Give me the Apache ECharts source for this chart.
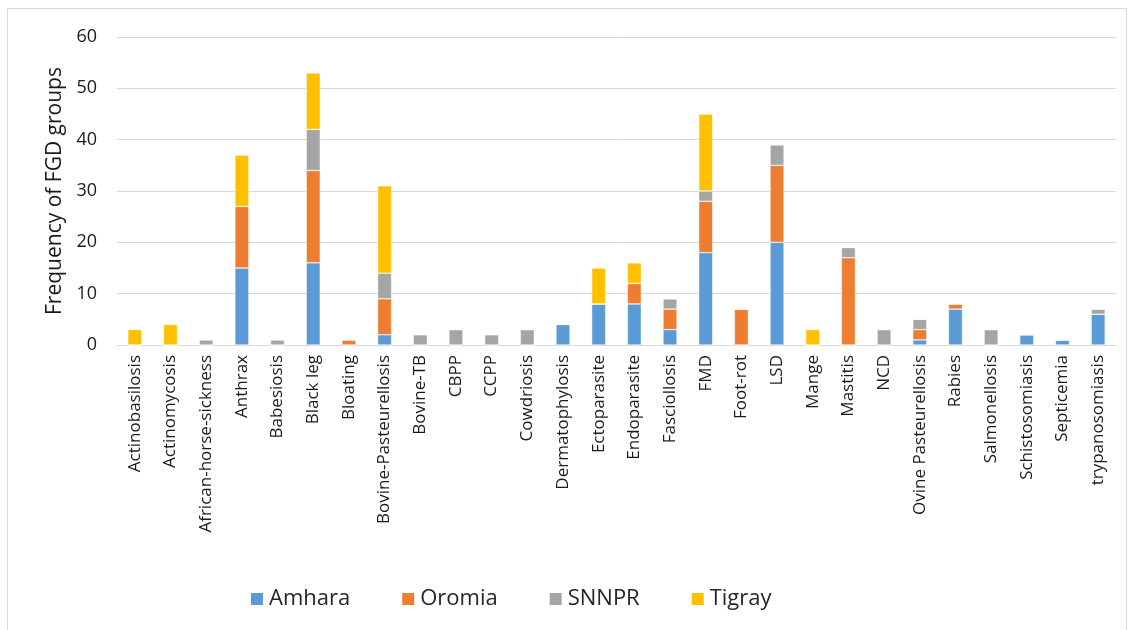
<!DOCTYPE html>
<html>
<head>
<meta charset="utf-8">
<script src="https://cdn.jsdelivr.net/npm/echarts@6/dist/echarts.min.js"></script>
<style>
  html, body { margin: 0; padding: 0; background: #fff; }
  #frame { position: absolute; left: 7px; top: 8px; width: 1120px; height: 630px; border: 1px solid #d9d9d9; box-sizing: border-box; }
  #main { width: 1134px; height: 630px; }
</style>
</head>
<body>
<div id="frame"></div>
<div id="main"></div>
<script>
const diseases = ['Actinobasilosis', 'Actinomycosis', 'African-horse-sickness', 'Anthrax', 'Babesiosis', 'Black leg', 'Bloating',
  'Bovine-Pasteurellosis', 'Bovine-TB', 'CBPP', 'CCPP', 'Cowdriosis', 'Dermatophylosis', 'Ectoparasite', 'Endoparasite',
  'Fasciollosis', 'FMD', 'Foot-rot', 'LSD', 'Mange', 'Mastitis', 'NCD', 'Ovine Pasteurellosis', 'Rabies', 'Salmonellosis',
  'Schistosomiasis', 'Septicemia', 'trypanosomiasis']
const amhara = [0, 0, 0, 15, 0, 16, 0, 2, 0, 0, 0, 0, 4, 8, 8, 3, 18, 0, 20, 0, 0, 0, 1, 7, 0, 2, 1, 6]
const oromia = [0, 0, 0, 12, 0, 18, 1, 7, 0, 0, 0, 0, 0, 0, 4, 4, 10, 7, 15, 0, 17, 0, 2, 1, 0, 0, 0, 0]
const snnpr = [0, 0, 1, 0, 1, 8, 0, 5, 2, 3, 2, 3, 0, 0, 0, 2, 2, 0, 4, 0, 2, 3, 2, 0, 3, 0, 0, 1]
const tigray = [3, 4, 0, 10, 0, 11, 0, 17, 0, 0, 0, 0, 0, 7, 4, 0, 15, 0, 0, 3, 0, 0, 0, 0, 0, 0, 0, 0]
const yTicks = [0, 60, 10]  // min, max, step

const font = 'Open Sans'
const mkSeries = (name, data, color) => ({
  name: name,
  type: 'bar',
  stack: 'total',
  barWidth: 14,
  data: data,
  itemStyle: { color: color, borderColor: '#fff', borderWidth: 0.5 }
})

let chart = echarts.init(document.getElementById('main'))
chart.setOption({
  animation: false,
  textStyle: { fontFamily: font },
  grid: { left: 117, right: 18, top: 37, bottom: 285 },
  legend: {
    bottom: 15,
    left: 244,
    itemWidth: 14,
    itemHeight: 14,
    itemGap: 50,
    icon: 'rect',
    textStyle: { fontSize: 22, color: '#262626', fontFamily: font }
  },
  xAxis: {
    type: 'category',
    data: diseases,
    axisTick: { show: false },
    axisLine: { lineStyle: { color: '#d9d9d9', width: 1 } },
    axisLabel: { interval: 0, rotate: 90, fontSize: 17, color: '#1a1a1a', margin: 10, fontFamily: font }
  },
  yAxis: {
    type: 'value',
    min: yTicks[0],
    max: yTicks[1],
    interval: yTicks[2],
    name: 'Frequency of FGD groups',
    nameLocation: 'middle',
    nameGap: 49,
    nameTextStyle: { fontSize: 21, color: '#1a1a1a', fontFamily: font },
    axisLabel: { fontSize: 18, color: '#1a1a1a', margin: 20, fontFamily: font },
    splitLine: { lineStyle: { color: '#d9d9d9', width: 1 } }
  },
  series: [
    mkSeries('Amhara', amhara, '#5b9bd5'),
    mkSeries('Oromia', oromia, '#ed7d31'),
    mkSeries('SNNPR', snnpr, '#a5a5a5'),
    mkSeries('Tigray', tigray, '#ffc000')
  ]
})
</script>
</body>
</html>
